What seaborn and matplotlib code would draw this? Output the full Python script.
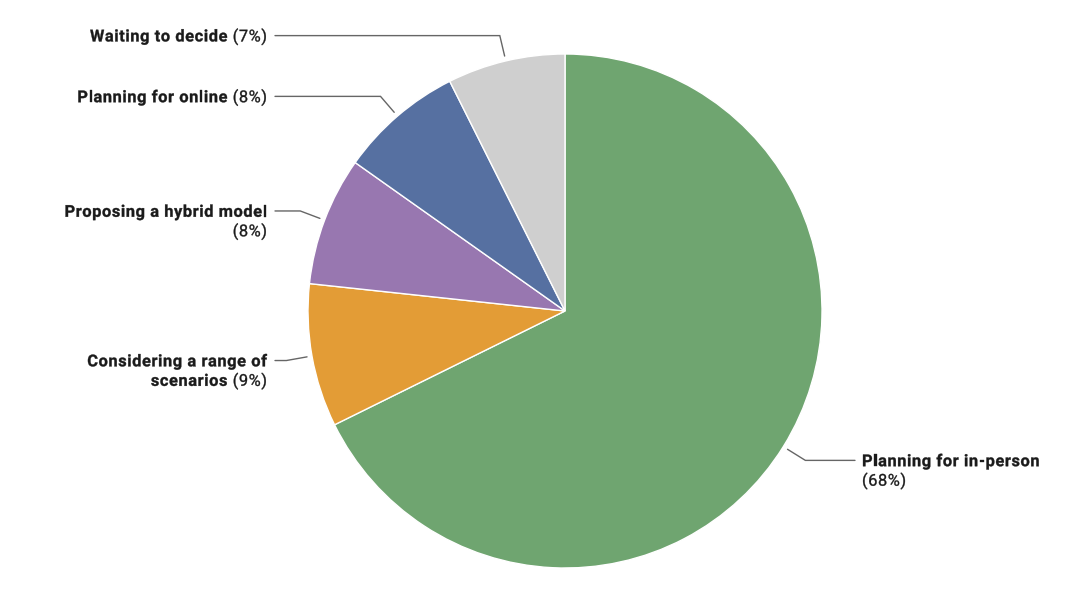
import numpy as np
import matplotlib
matplotlib.use("Agg")
import matplotlib.pyplot as plt
import seaborn as sns
from matplotlib import ft2font, font_manager
from matplotlib.font_manager import FontProperties
from matplotlib.textpath import TextPath
from matplotlib.patches import PathPatch

# data (shares in %; labels show them rounded)
names = ["Planning for in-person", "Considering a range of scenarios",
         "Proposing a hybrid model", "Planning for online", "Waiting to decide"]
values = [67.7, 9.0, 8.1, 7.8, 7.4]
colors = ["#6fa570", "#e39c36", "#9877b0", "#5670a1", "#cfcfcf"]
# how each label is broken into lines: (bold part, show percent) per line
label_lines = [
    [("Planning for in-person", False), ("", True)],
    [("Considering a range of", False), ("scenarios", True)],
    [("Proposing a hybrid model", False), ("", True)],
    [("Planning for online", True)],
    [("Waiting to decide", True)],
]

sns.set_theme(style="white")
plt.rcParams["font.family"] = ["Roboto", "DejaVu Sans"]

W, H = 1089, 595
fig = plt.figure(figsize=(W / 100, H / 100), dpi=100)
ax = fig.add_axes([0, 0, 1, 1])

cx, cy, r = 565, H - 311, 257
wedges, _ = ax.pie(values, colors=colors, startangle=90, counterclock=False,
                   center=(cx, cy), radius=r,
                   wedgeprops=dict(edgecolor="white", linewidth=1))
ax.set_xlim(0, W)
ax.set_ylim(0, H)
ax.set_aspect("equal")
ax.axis("off")

fs = 11.8
em = fs * 100 / 72          # font size in pixels (1 data unit = 1 px)
track = 0.6                 # extra letter spacing, pixels
lh = 19.5
txt_col = "#1a1a1a"
NOHINT = getattr(getattr(ft2font, "LoadFlags", None), "NO_HINTING", None)
if NOHINT is None:
    NOHINT = ft2font.LOAD_NO_HINTING

props = {wt: FontProperties(family="Roboto", weight=wt)
         for wt in ("bold", "normal")}
fonts = {}
for wt, p in props.items():
    f = ft2font.FT2Font(font_manager.findfont(p))
    f.set_size(fs, 100)
    fonts[wt] = f


def advances(s, wt):
    f = fonts[wt]
    return [f.load_char(ord(c), flags=NOHINT).linearHoriAdvance / 65536 + track
            for c in s]


def draw_run(x, base, s, wt):
    pen = x
    for c, adv in zip(s, advances(s, wt)):
        if c != " ":
            tp = TextPath((pen, base), c, size=em, prop=props[wt])
            ax.add_patch(PathPatch(tp, facecolor=txt_col, edgecolor=txt_col,
                                   lw=0.25))
        pen += adv


def draw_line(x, y, bold, regular, side):
    base = y - 0.711 * em / 2
    wb = sum(advances(bold, "bold"))
    wr = sum(advances(regular, "normal"))
    x0 = x - (wb + wr - track) if side == "left" else x
    if bold:
        draw_run(x0, base, bold, "bold")
    if regular:
        draw_run(x0 + wb, base, regular, "normal")


for wd, val, lines in zip(wedges, values, label_lines):
    pct = f"({round(val)}%)"
    mid = np.deg2rad((wd.theta1 + wd.theta2) / 2)
    x0, y0 = cx + (r + 5) * np.cos(mid), cy + (r + 5) * np.sin(mid)
    x1, y1 = cx + (r + 26) * np.cos(mid), cy + (r + 26) * np.sin(mid)
    side = "left" if np.cos(mid) < 0 else "right"
    x2 = 275 if side == "left" else 855
    xt = 267 if side == "left" else 862
    ax.plot([x0, x1, x2], [y0, y1, y1], color="#666666", lw=1,
            solid_joinstyle="miter")
    for i, (b, show) in enumerate(lines):
        reg = ""
        if show:
            reg = (" " + pct) if b else pct
        draw_line(xt, y1 - i * lh, b, reg, side)

fig.savefig("out.png", dpi=100, facecolor="white")
